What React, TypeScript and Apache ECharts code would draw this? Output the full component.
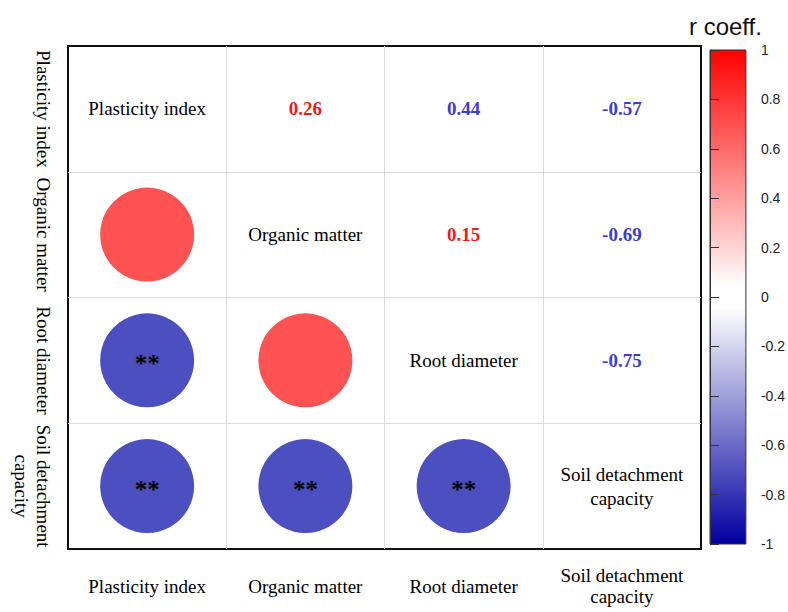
import React, { useEffect, useRef } from 'react';
import * as echarts from 'echarts';

// ---- data ----
const variables = ['Plasticity index', 'Organic matter', 'Root diameter', 'Soil detachment capacity'];
const variableLabels = ['Plasticity index', 'Organic matter', 'Root diameter', 'Soil detachment\ncapacity'];
// pairs (first index < second index)
const pairFirst = [0, 0, 0, 1, 1, 2];
const pairSecond = [1, 2, 3, 2, 3, 3];
const rText = ['0.26', '0.44', '-0.57', '0.15', '-0.69', '-0.75'];
const rPolarity = ['pos', 'neg', 'neg', 'pos', 'neg', 'neg'];
const significance = ['', '**', '**', '', '**', '**'];
const colorbarMin = -1;
const colorbarMax = 1;
const colorbarStep = 0.2;

const SERIF = '"Times New Roman", "Liberation Serif", serif';
const SANS = 'Arial, "Liberation Sans", Helvetica, sans-serif';
const circleColor: Record<string, string> = { pos: '#FF5252', neg: '#4C4FBF' };
const textColor: Record<string, string> = { pos: '#EE1B1B', neg: '#3C3CD2' };

export default function App() {
  const ref = useRef<HTMLDivElement>(null);
  useEffect(() => {
    if (!ref.current) return;
    const chart = echarts.init(ref.current, null, { renderer: 'svg' });

    const circleData = pairFirst.map((a, k) => ({
      value: [variables[a], variables[pairSecond[k]]],
      itemStyle: { color: circleColor[rPolarity[k]], opacity: 1 },
      label: { show: significance[k] !== '', formatter: significance[k] },
    }));
    const textData = pairFirst.map((a, k) => ({
      name: rText[k],
      value: [variables[pairSecond[k]], variables[a]],
      label: { color: textColor[rPolarity[k]] },
    }));
    const diagData = variables.map((v, i) => ({ name: variableLabels[i], value: [v, v] }));

    const splitLine = {
      show: true,
      showMinLine: false,
      showMaxLine: false,
      lineStyle: { color: '#dcdcdc', width: 1 },
    };

    const option: any = {
      animation: false,
      backgroundColor: '#ffffff',
      title: {
        text: 'r coeff.',
        left: 689,
        top: 14,
        padding: 0,
        textStyle: { fontFamily: SANS, fontSize: 24, fontWeight: 'normal', color: '#111' },
      },
      grid: [
        {
          left: 68, right: 87, top: 46, bottom: 63,
          show: true, borderColor: '#111', borderWidth: 2, backgroundColor: 'transparent',
        },
        {
          left: 710, width: 37, top: 50, height: 494,
          show: true, borderColor: '#333', borderWidth: 1,
          backgroundColor: new echarts.graphic.LinearGradient(0, 0, 0, 1, [
            { offset: 0, color: '#FF0000' },
            { offset: 0.48, color: '#FFFFFF' },
            { offset: 0.52, color: '#FFFFFF' },
            { offset: 1, color: '#0000A0' },
          ]),
        },
      ],
      xAxis: [
        {
          type: 'category', gridIndex: 0, data: variables, position: 'bottom',
          axisLine: { show: false }, axisTick: { show: false },
          axisLabel: {
            interval: 0,
            formatter: (_v: string, i: number) => variableLabels[i],
            fontFamily: SERIF, fontSize: 19, color: '#000', lineHeight: 21,
            margin: 37, verticalAlign: 'middle',
          },
          splitLine,
        },
        { type: 'value', gridIndex: 1, show: false, min: 0, max: 1 },
      ],
      yAxis: [
        {
          type: 'category', gridIndex: 0, data: variables, inverse: true,
          axisLine: { show: false }, axisTick: { show: false },
          axisLabel: {
            interval: 0, rotate: -90,
            formatter: (_v: string, i: number) => variableLabels[i],
            fontFamily: SERIF, fontSize: 19, color: '#000', lineHeight: 22,
            margin: 14,
          },
          splitLine,
        },
        {
          type: 'value', gridIndex: 1, position: 'right',
          min: colorbarMin, max: colorbarMax, interval: colorbarStep,
          axisLine: { show: true, lineStyle: { color: '#333', width: 1 } },
          axisTick: { show: true, length: 9, lineStyle: { color: '#333', width: 1 } },
          axisLabel: { margin: 15, fontFamily: SANS, fontSize: 14, color: '#222' },
          splitLine: { show: false },
        },
      ],
      series: [
        {
          type: 'scatter', xAxisIndex: 0, yAxisIndex: 0, symbol: 'circle', symbolSize: 94,
          silent: true, data: circleData,
          itemStyle: { opacity: 1 },
          label: { position: 'inside', fontFamily: SERIF, fontSize: 25, fontWeight: 'bold', color: '#000', opacity: 1, offset: [0, 3] },
        },
        {
          type: 'scatter', xAxisIndex: 0, yAxisIndex: 0, symbolSize: 1, silent: true,
          itemStyle: { color: 'rgba(0,0,0,0)', opacity: 1 },
          data: textData,
          label: { show: true, position: 'inside', formatter: '{b}', fontFamily: SERIF, fontSize: 19, fontWeight: 'bold', opacity: 1 },
        },
        {
          type: 'scatter', xAxisIndex: 0, yAxisIndex: 0, symbolSize: 1, silent: true,
          itemStyle: { color: 'rgba(0,0,0,0)', opacity: 1 },
          data: diagData,
          label: { show: true, position: 'inside', formatter: '{b}', fontFamily: SERIF, fontSize: 19, color: '#000', lineHeight: 24, opacity: 1 },
        },
      ],
    };
    chart.setOption(option);
    return () => chart.dispose();
  }, []);
  return <div ref={ref} style={{ position: 'fixed', left: 0, top: 0, width: 788, height: 612 }} />;
}
